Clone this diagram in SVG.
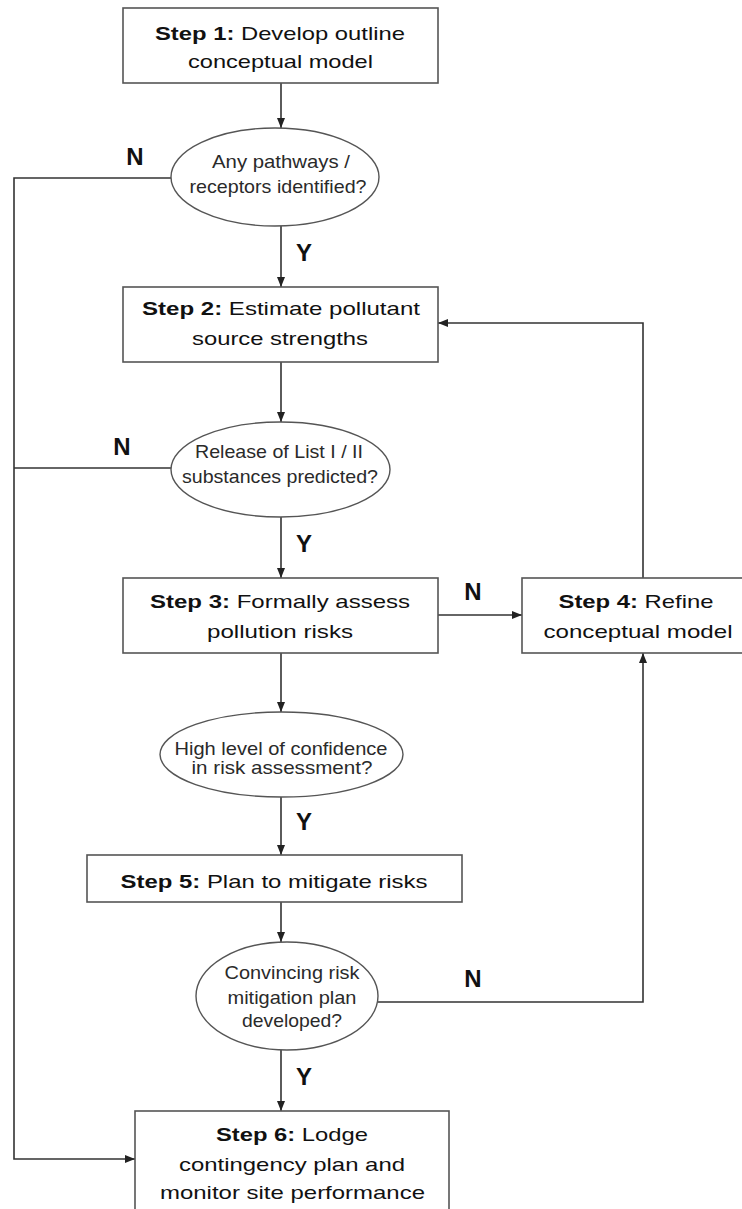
<svg xmlns="http://www.w3.org/2000/svg" width="742" height="1209" viewBox="0 0 742 1209">
<style>
  .box { fill: #ffffff; stroke: #555555; stroke-width: 1.6; }
  .dec { fill: #ffffff; stroke: #555555; stroke-width: 1.4; }
  .bt { font-family: "Liberation Sans", Arial, sans-serif; font-size: 19px; fill: #111111; text-anchor: middle; }
  .bt .b { font-weight: bold; }
  .et { font-family: "Liberation Sans", Arial, sans-serif; font-size: 19px; fill: #2a2a2a; text-anchor: middle; }
  .lbl { font-family: "Liberation Sans", Arial, sans-serif; font-size: 24px; font-weight: bold; fill: #111111; text-anchor: middle; }
  .con { fill: none; stroke: #333333; stroke-width: 1.6; }
</style>
<defs>
  <marker id="ah" markerUnits="userSpaceOnUse" markerWidth="10" markerHeight="10" viewBox="0 0 10 10" refX="10" refY="5" orient="auto">
    <path d="M0,1 L10,5 L0,9 z" fill="#222222"/>
  </marker>
</defs>
<rect width="742" height="1209" fill="#ffffff"/>

<g id="connectors">
  <path class="con" d="M281,83 V128" marker-end="url(#ah)"/>
  <path class="con" d="M281,226 V287" marker-end="url(#ah)"/>
  <path class="con" d="M281,362 V422" marker-end="url(#ah)"/>
  <path class="con" d="M281,517 V578" marker-end="url(#ah)"/>
  <path class="con" d="M281,653 V712" marker-end="url(#ah)"/>
  <path class="con" d="M281,797 V855" marker-end="url(#ah)"/>
  <path class="con" d="M281,902 V942" marker-end="url(#ah)"/>
  <path class="con" d="M281,1050 V1111" marker-end="url(#ah)"/>
  <path class="con" d="M171,178 H14 V1159 H135" marker-end="url(#ah)"/>
  <path class="con" d="M171,468 H14"/>
  <path class="con" d="M438,615 H522" marker-end="url(#ah)"/>
  <path class="con" d="M643,578 V323 H438" marker-end="url(#ah)"/>
  <path class="con" d="M378,1002 H643 V653" marker-end="url(#ah)"/>
  <text class="lbl" x="135" y="165">N</text>
  <text class="lbl" x="122" y="455">N</text>
  <text class="lbl" x="473" y="600">N</text>
  <text class="lbl" x="473" y="987">N</text>
  <text class="lbl" x="304" y="261">Y</text>
  <text class="lbl" x="304" y="552">Y</text>
  <text class="lbl" x="304" y="830">Y</text>
  <text class="lbl" x="304" y="1085">Y</text>
</g>

<g id="step1">
  <rect class="box" x="123" y="8" width="315" height="75"/>
  <text class="bt" x="280" y="40" textLength="250" lengthAdjust="spacingAndGlyphs"><tspan class="b">Step 1:</tspan> Develop outline</text>
  <text class="bt" x="280.5" y="68" textLength="185" lengthAdjust="spacingAndGlyphs">conceptual model</text>
</g>

<g id="decision1">
  <ellipse class="dec" cx="275" cy="177" rx="104" ry="49"/>
  <text class="et" x="281" y="168" textLength="138" lengthAdjust="spacingAndGlyphs">Any pathways /</text>
  <text class="et" x="278" y="193" textLength="177" lengthAdjust="spacingAndGlyphs">receptors identified?</text>
</g>

<g id="step2">
  <rect class="box" x="123" y="287" width="315" height="75"/>
  <text class="bt" x="281" y="315" textLength="278" lengthAdjust="spacingAndGlyphs"><tspan class="b">Step 2:</tspan> Estimate pollutant</text>
  <text class="bt" x="280" y="345" textLength="176" lengthAdjust="spacingAndGlyphs">source strengths</text>
</g>

<g id="decision2">
  <ellipse class="dec" cx="280.5" cy="469.5" rx="109.5" ry="47.5"/>
  <text class="et" x="279" y="458" textLength="168" lengthAdjust="spacingAndGlyphs">Release of List I / II</text>
  <text class="et" x="280" y="483" textLength="196" lengthAdjust="spacingAndGlyphs">substances predicted?</text>
</g>

<g id="step3">
  <rect class="box" x="123" y="578" width="315" height="75"/>
  <text class="bt" x="280" y="608" textLength="260" lengthAdjust="spacingAndGlyphs"><tspan class="b">Step 3:</tspan> Formally assess</text>
  <text class="bt" x="280" y="638" textLength="146" lengthAdjust="spacingAndGlyphs">pollution risks</text>
</g>

<g id="step4">
  <rect class="box" x="522" y="578" width="240" height="75"/>
  <text class="bt" x="636" y="608" textLength="155" lengthAdjust="spacingAndGlyphs"><tspan class="b">Step 4:</tspan> Refine</text>
  <text class="bt" x="638" y="638" textLength="189" lengthAdjust="spacingAndGlyphs">conceptual model</text>
</g>

<g id="decision3">
  <ellipse class="dec" cx="281.5" cy="754.5" rx="121.5" ry="42.5"/>
  <text class="et" x="281" y="755" textLength="213" lengthAdjust="spacingAndGlyphs">High level of confidence</text>
  <text class="et" x="282" y="774" textLength="181" lengthAdjust="spacingAndGlyphs">in risk assessment?</text>
</g>

<g id="step5">
  <rect class="box" x="87" y="855" width="375" height="47"/>
  <text class="bt" x="274" y="888" textLength="307" lengthAdjust="spacingAndGlyphs"><tspan class="b">Step 5:</tspan> Plan to mitigate risks</text>
</g>

<g id="decision4">
  <ellipse class="dec" cx="287" cy="996" rx="91" ry="54"/>
  <text class="et" x="292" y="979" textLength="135" lengthAdjust="spacingAndGlyphs">Convincing risk</text>
  <text class="et" x="292" y="1004" textLength="129" lengthAdjust="spacingAndGlyphs">mitigation plan</text>
  <text class="et" x="292" y="1027" textLength="100" lengthAdjust="spacingAndGlyphs">developed?</text>
</g>

<g id="step6">
  <rect class="box" x="135" y="1111" width="314" height="110"/>
  <text class="bt" x="292" y="1141" textLength="152" lengthAdjust="spacingAndGlyphs"><tspan class="b">Step 6:</tspan> Lodge</text>
  <text class="bt" x="292" y="1171" textLength="226" lengthAdjust="spacingAndGlyphs">contingency plan and</text>
  <text class="bt" x="292.5" y="1199" textLength="265" lengthAdjust="spacingAndGlyphs">monitor site performance</text>
</g>
</svg>
